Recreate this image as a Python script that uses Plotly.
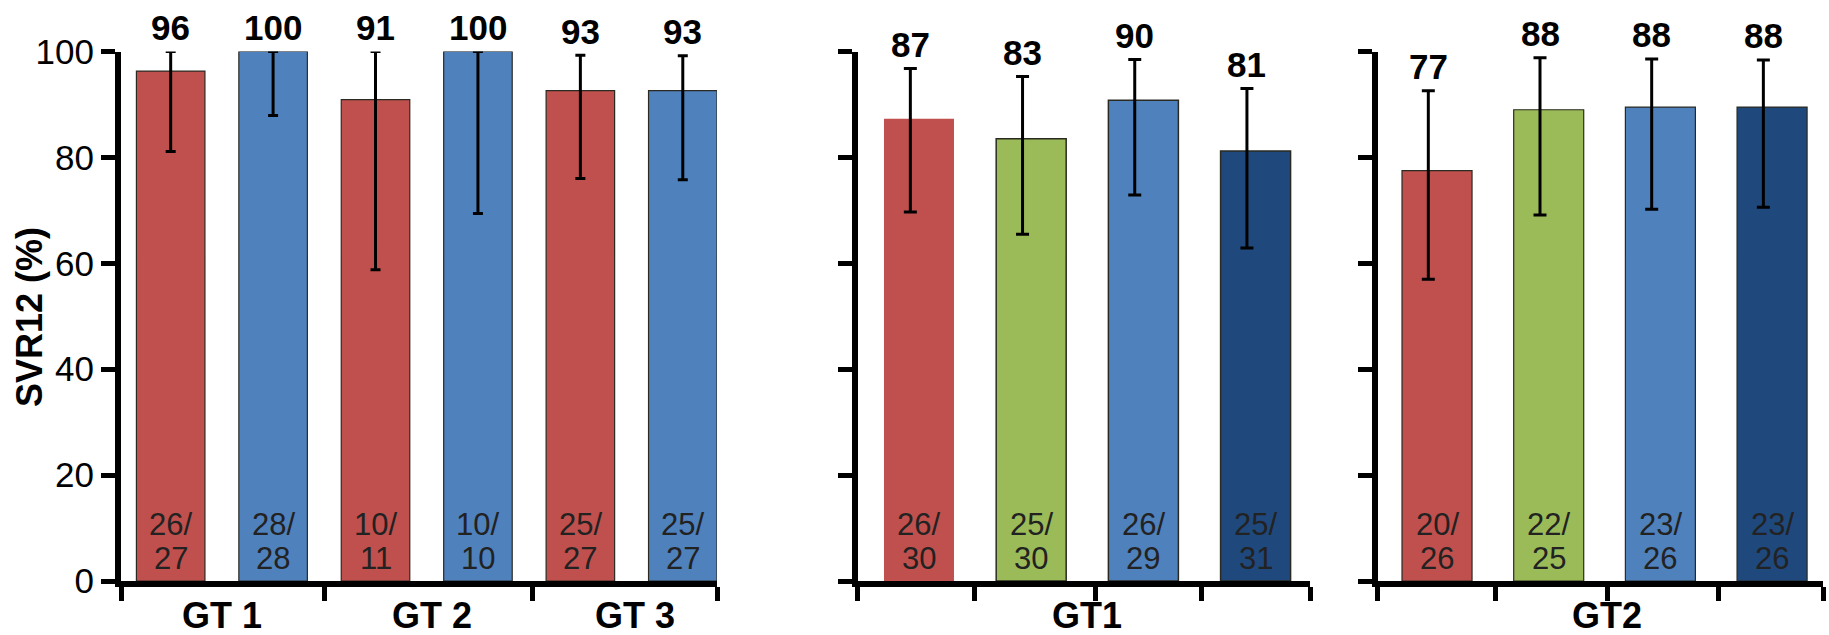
import plotly.graph_objects as go

W, H = 1829, 635

# ---------------- data ----------------
p1_groups = ["GT 1", "GT 2", "GT 3"]
p1_values = [96.3, 100.0, 90.9, 100.0, 92.6, 92.6]
p1_err_hi = [100.0, 100.0, 100.0, 100.0, 99.3, 99.2]
p1_err_lo = [81.1, 87.9, 58.8, 69.4, 76.0, 75.8]
p1_labels = ["96", "100", "91", "100", "93", "93"]
p1_n = ["26", "28", "10", "10", "25", "25"]
p1_d = ["27", "28", "11", "10", "27", "27"]

p2_group = ["GT1"]
p2_values = [87.3, 83.5, 90.8, 81.2]
p2_err_hi = [96.8, 95.3, 98.5, 93.0]
p2_err_lo = [69.7, 65.5, 72.9, 62.9]
p2_labels = ["87", "83", "90", "81"]
p2_n = ["26", "25", "26", "25"]
p2_d = ["30", "30", "29", "31"]

p3_group = ["GT2"]
p3_values = [77.5, 89.0, 89.5, 89.5]
p3_err_hi = [92.6, 98.8, 98.6, 98.4]
p3_err_lo = [57.0, 69.1, 70.2, 70.6]
p3_labels = ["77", "88", "88", "88"]
p3_n = ["20", "22", "23", "23"]
p3_d = ["26", "25", "26", "26"]

y_ticks = [0, 20, 40, 60, 80, 100]

# ---------------- style ----------------
RED, GREEN, BLUE, NAVY = "#C0504D", "#9BBB59", "#4F81BD", "#1F497D"
OUT = "#2a2a22"
FONT = "Arial, Liberation Sans, sans-serif"

def px_x(p):
    return p / W

def px_y(p):
    return 1 - p / H

y_dom = [px_y(581), px_y(51.5)]

panels = [
    dict(values=p1_values, hi=p1_err_hi, lo=p1_err_lo, labels=p1_labels, n=p1_n, d=p1_d,
         colors=[RED, BLUE, RED, BLUE, RED, BLUE], lw=[1.2] * 6, width=0.669, eoff=0.0, cap=5,
         dom=[px_x(121), px_x(717)], rng=[-0.485, 5.334],
         tickv=[-0.485, 1.505, 3.528, 5.334],
         groups=p1_groups, gpos=[0.5, 2.55, 4.53], showylabels=True),
    dict(values=p2_values, hi=p2_err_hi, lo=p2_err_lo, labels=p2_labels, n=p2_n, d=p2_d,
         colors=[RED, GREEN, BLUE, NAVY], lw=[0, 1.5, 1.5, 1.5], width=0.624, eoff=-0.077, cap=6.5,
         dom=[px_x(857.5), px_x(1310)], rng=[-0.548, 3.485],
         tickv=[-0.548, 0.499, 1.569, 2.52, 3.485],
         groups=p2_group, gpos=[1.5], showylabels=False),
    dict(values=p3_values, hi=p3_err_hi, lo=p3_err_lo, labels=p3_labels, n=p3_n, d=p3_d,
         colors=[RED, GREEN, BLUE, NAVY], lw=[1.2] * 4, width=0.627, eoff=-0.078, cap=6.5,
         dom=[px_x(1377.5), px_x(1823)], rng=[-0.533, 3.456],
         tickv=[-0.533, 0.528, 1.526, 2.516, 3.456],
         groups=p3_group, gpos=[1.52], showylabels=False),
]

fig = go.Figure()
annotations = []
layout = dict(
    template="none",
    width=W, height=H,
    margin=dict(l=0, r=0, t=0, b=0, pad=0, autoexpand=False),
    paper_bgcolor="white", plot_bgcolor="white",
    showlegend=False,
    font=dict(family=FONT, color="black"),
)

for k, p in enumerate(panels):
    sfx = "" if k == 0 else str(k + 1)
    xref = "x" + sfx
    yref = "y" + sfx
    xs = list(range(len(p["values"])))
    fig.add_trace(go.Bar(
        x=xs, y=p["values"], width=p["width"],
        marker=dict(color=p["colors"], line=dict(color=OUT, width=p["lw"])),
        xaxis=xref, yaxis=yref, hoverinfo="skip", cliponaxis=False,
    ))
    ex = [x + p["eoff"] for x in xs]
    fig.add_trace(go.Scatter(
        x=ex, y=p["values"], mode="markers",
        marker=dict(size=1, opacity=0),
        error_y=dict(type="data", symmetric=False,
                     array=[h - v for h, v in zip(p["hi"], p["values"])],
                     arrayminus=[v - l for v, l in zip(p["values"], p["lo"])],
                     color="black", thickness=3, width=p["cap"]),
        xaxis=xref, yaxis=yref, hoverinfo="skip", cliponaxis=False,
    ))
    # value labels above error bars
    for x, h, t in zip(ex, p["hi"], p["labels"]):
        annotations.append(dict(x=x, y=h, xref=xref, yref=yref, text="<b>%s</b>" % t,
                                showarrow=False, yanchor="middle", yshift=24,
                                font=dict(size=35, color="black", family=FONT)))
    # n/N labels inside bars
    for x, a, b in zip(xs, p["n"], p["d"]):
        annotations.append(dict(x=x, y=0, xref=xref, yref=yref, text=a + "/",
                                showarrow=False, yanchor="middle", yshift=57,
                                font=dict(size=31, color="#222222", family=FONT)))
        annotations.append(dict(x=x, y=0, xref=xref, yref=yref, text=b,
                                showarrow=False, yanchor="middle", yshift=23,
                                font=dict(size=31, color="#222222", family=FONT)))
    # group labels
    for g, gx in zip(p["groups"], p["gpos"]):
        annotations.append(dict(x=gx, y=0, xref=xref, yref=yref, text="<b>%s</b>" % g,
                                showarrow=False, yanchor="middle", yshift=-34,
                                font=dict(size=36, color="black", family=FONT)))

    layout["xaxis" + sfx] = dict(
        domain=p["dom"], range=p["rng"], anchor=yref, automargin=False,
        showgrid=False, zeroline=False,
        showline=True, linecolor="black", linewidth=6,
        ticks="outside", ticklen=14, tickwidth=5, tickcolor="black",
        tickmode="array", tickvals=p["tickv"], ticktext=[""] * len(p["tickv"]),
        showticklabels=False, fixedrange=True,
    )
    layout["yaxis" + sfx] = dict(
        domain=y_dom, range=[0, 100], anchor=xref, automargin=False,
        showgrid=False, zeroline=False,
        showline=True, linecolor="black", linewidth=6,
        ticks="outside", ticklen=14, tickwidth=5, tickcolor="black",
        tickmode="array", tickvals=y_ticks,
        ticktext=[str(v) for v in y_ticks],
        showticklabels=p["showylabels"],
        tickfont=dict(size=35, color="black", family=FONT),
        fixedrange=True,
    )

annotations.append(dict(x=px_x(29), y=px_y(317), xref="paper", yref="paper",
                        text="<b>SVR12 (%)</b>", textangle=-90, showarrow=False,
                        xanchor="center", yanchor="middle",
                        font=dict(size=36, color="black", family=FONT)))
layout["annotations"] = annotations
fig.update_layout(**layout)

fig.write_html("out.html", config=dict(displayModeBar=False))
